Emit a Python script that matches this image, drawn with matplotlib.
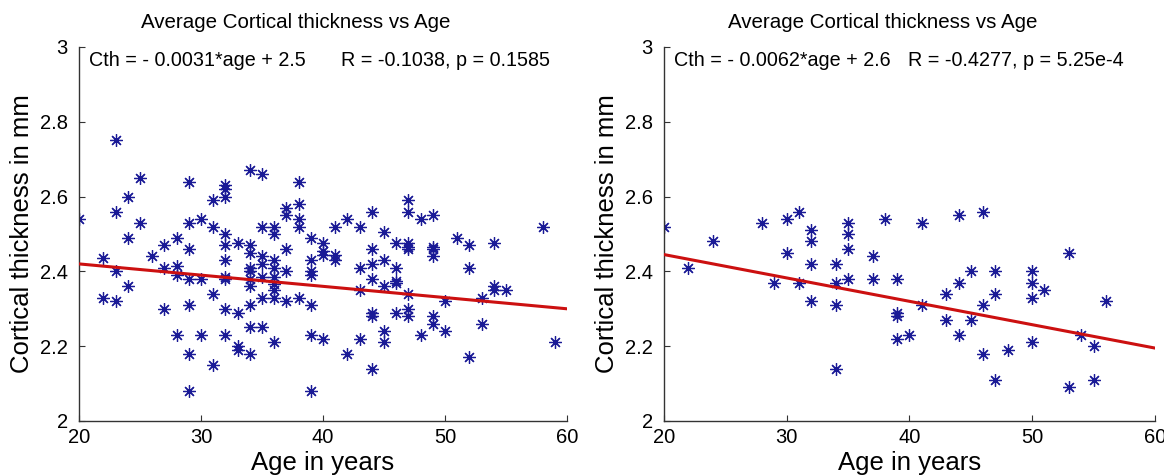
import matplotlib
matplotlib.use("Agg")
import matplotlib.pyplot as plt

plt.rcParams['font.family'] = ['Liberation Sans', 'DejaVu Sans']

# left panel: all subjects
age_all = [20,
           22, 22,
           23, 23, 23, 23,
           24, 24, 24,
           25, 25,
           26,
           27, 27, 27,
           28, 28, 28, 28,
           29, 29, 29, 29, 29, 29, 29,
           30, 30, 30,
           31, 31, 31, 31,
           32, 32, 32, 32, 32, 32, 32, 32, 32, 32,
           33, 33, 33, 33,
           34, 34, 34, 34, 34, 34, 34, 34, 34, 34,
           35, 35, 35, 35, 35, 35, 35,
           36, 36, 36, 36, 36, 36, 36, 36, 36,
           37, 37, 37, 37, 37,
           38, 38, 38, 38, 38,
           39, 39, 39, 39, 39, 39, 39,
           40, 40, 40, 40,
           41, 41, 41,
           42, 42,
           43, 43, 43, 43,
           44, 44, 44, 44, 44, 44, 44,
           45, 45, 45, 45, 45,
           46, 46, 46, 46, 46,
           47, 47, 47, 47, 47, 47, 47, 47,
           48, 48,
           49, 49, 49, 49, 49, 49,
           50, 50,
           51,
           52, 52, 52,
           53, 53,
           54, 54, 54,
           55,
           58,
           59]
cth_all = [2.54,
           2.435, 2.33,
           2.75, 2.56, 2.40, 2.32,
           2.60, 2.49, 2.36,
           2.65, 2.53,
           2.44,
           2.47, 2.41, 2.30,
           2.49, 2.415, 2.39, 2.23,
           2.64, 2.53, 2.46, 2.38, 2.31, 2.18, 2.08,
           2.54, 2.38, 2.23,
           2.59, 2.52, 2.34, 2.15,
           2.63, 2.62, 2.60, 2.50, 2.47, 2.43, 2.385, 2.38, 2.30, 2.23,
           2.475, 2.29, 2.20, 2.19,
           2.67, 2.47, 2.45, 2.41, 2.40, 2.38, 2.36, 2.31, 2.25, 2.18,
           2.66, 2.52, 2.44, 2.42, 2.385, 2.33, 2.25,
           2.52, 2.50, 2.43, 2.41, 2.385, 2.365, 2.35, 2.33, 2.21,
           2.57, 2.55, 2.46, 2.40, 2.32,
           2.64, 2.58, 2.54, 2.52, 2.33,
           2.49, 2.43, 2.40, 2.39, 2.31, 2.23, 2.08,
           2.475, 2.455, 2.445, 2.22,
           2.52, 2.445, 2.43,
           2.54, 2.18,
           2.52, 2.41, 2.35, 2.22,
           2.56, 2.46, 2.42, 2.38, 2.29, 2.28, 2.14,
           2.505, 2.43, 2.36, 2.24, 2.21,
           2.475, 2.41, 2.375, 2.37, 2.29,
           2.59, 2.56, 2.475, 2.465, 2.46, 2.34, 2.30, 2.28,
           2.54, 2.23,
           2.55, 2.465, 2.46, 2.44, 2.28, 2.26,
           2.32, 2.24,
           2.49,
           2.47, 2.41, 2.17,
           2.33, 2.26,
           2.475, 2.36, 2.35,
           2.35,
           2.52,
           2.21]
fit_x_all = [20, 60]
fit_y_all = [2.42, 2.30]
text_fit_all = "Cth = - 0.0031*age + 2.5"
text_r_all = "R = -0.1038, p = 0.1585"

# right panel: subgroup
age_sub = [20, 22, 24, 28, 29,
           30, 30, 31, 31,
           32, 32, 32, 32,
           34, 34, 34, 34,
           35, 35, 35, 35,
           37, 37, 38,
           39, 39, 39, 39,
           40, 41, 41, 43, 43,
           44, 44, 44, 45, 45,
           46, 46, 46, 47, 47, 47,
           48, 50, 50, 50, 50,
           51, 53, 53, 54, 55, 55, 56]
cth_sub = [2.52, 2.41, 2.48, 2.53, 2.37,
           2.54, 2.45, 2.56, 2.37,
           2.51, 2.48, 2.42, 2.32,
           2.42, 2.37, 2.31, 2.14,
           2.53, 2.50, 2.46, 2.38,
           2.44, 2.38, 2.54,
           2.38, 2.29, 2.28, 2.22,
           2.23, 2.53, 2.31, 2.34, 2.27,
           2.55, 2.37, 2.23, 2.40, 2.27,
           2.56, 2.31, 2.18, 2.40, 2.34, 2.11,
           2.19, 2.40, 2.37, 2.33, 2.21,
           2.35, 2.45, 2.09, 2.23, 2.20, 2.11, 2.32]
fit_x_sub = [20, 60]
fit_y_sub = [2.445, 2.195]
text_fit_sub = "Cth = - 0.0062*age + 2.6"
text_r_sub = "R = -0.4277, p = 5.25e-4"

title = "Average Cortical thickness vs Age"
xticks = [20, 30, 40, 50, 60]
yticks = [2, 2.2, 2.4, 2.6, 2.8, 3]
ytick_labels = ["2", "2.2", "2.4", "2.6", "2.8", "3"]

star = (8, 2, 0)

fig = plt.figure(figsize=(11.64, 4.75), dpi=100)
ax1 = fig.add_axes([0.0679, 0.1137, 0.4192, 0.7874])
ax2 = fig.add_axes([0.5704, 0.1137, 0.4218, 0.7874])

panels = [(ax1, age_all, cth_all, fit_x_all, fit_y_all, text_fit_all, text_r_all, 41.5),
          (ax2, age_sub, cth_sub, fit_x_sub, fit_y_sub, text_fit_sub, text_r_sub, 39.9)]

for ax, x, y, fx, fy, t1, t2, rx in panels:
    ax.plot(x, y, linestyle='none', marker=star, markersize=9,
            markeredgewidth=0.9, color='#1a1a96', zorder=2)
    ax.plot(fx, fy, color='#cc1010', linewidth=2.2, zorder=3)
    ax.set_xlim(20, 60)
    ax.set_ylim(2, 3)
    ax.set_xticks(xticks)
    ax.set_yticks(yticks)
    ax.set_yticklabels(ytick_labels)
    ax.spines['top'].set_visible(False)
    ax.spines['right'].set_visible(False)
    for s in ['left', 'bottom']:
        ax.spines[s].set_color('#333333')
        ax.spines[s].set_linewidth(1.0)
    ax.tick_params(direction='in', length=4, labelsize=14.5, colors='#333333',
                   labelcolor='black')
    ax.tick_params(axis='y', pad=8)
    ax.tick_params(axis='x', pad=5)
    ax.set_title(title, fontsize=14.8, pad=14, x=0.445)
    ax.set_xlabel("Age in years", fontsize=18.5, labelpad=3)
    ax.set_ylabel("Cortical thickness in mm", fontsize=18.5, labelpad=4)
    ax.text(20.8, 2.965, t1, fontsize=14.2, va='center', ha='left')
    ax.text(rx, 2.965, t2, fontsize=14.2, va='center', ha='left')

fig.savefig("out.png", dpi=100)
